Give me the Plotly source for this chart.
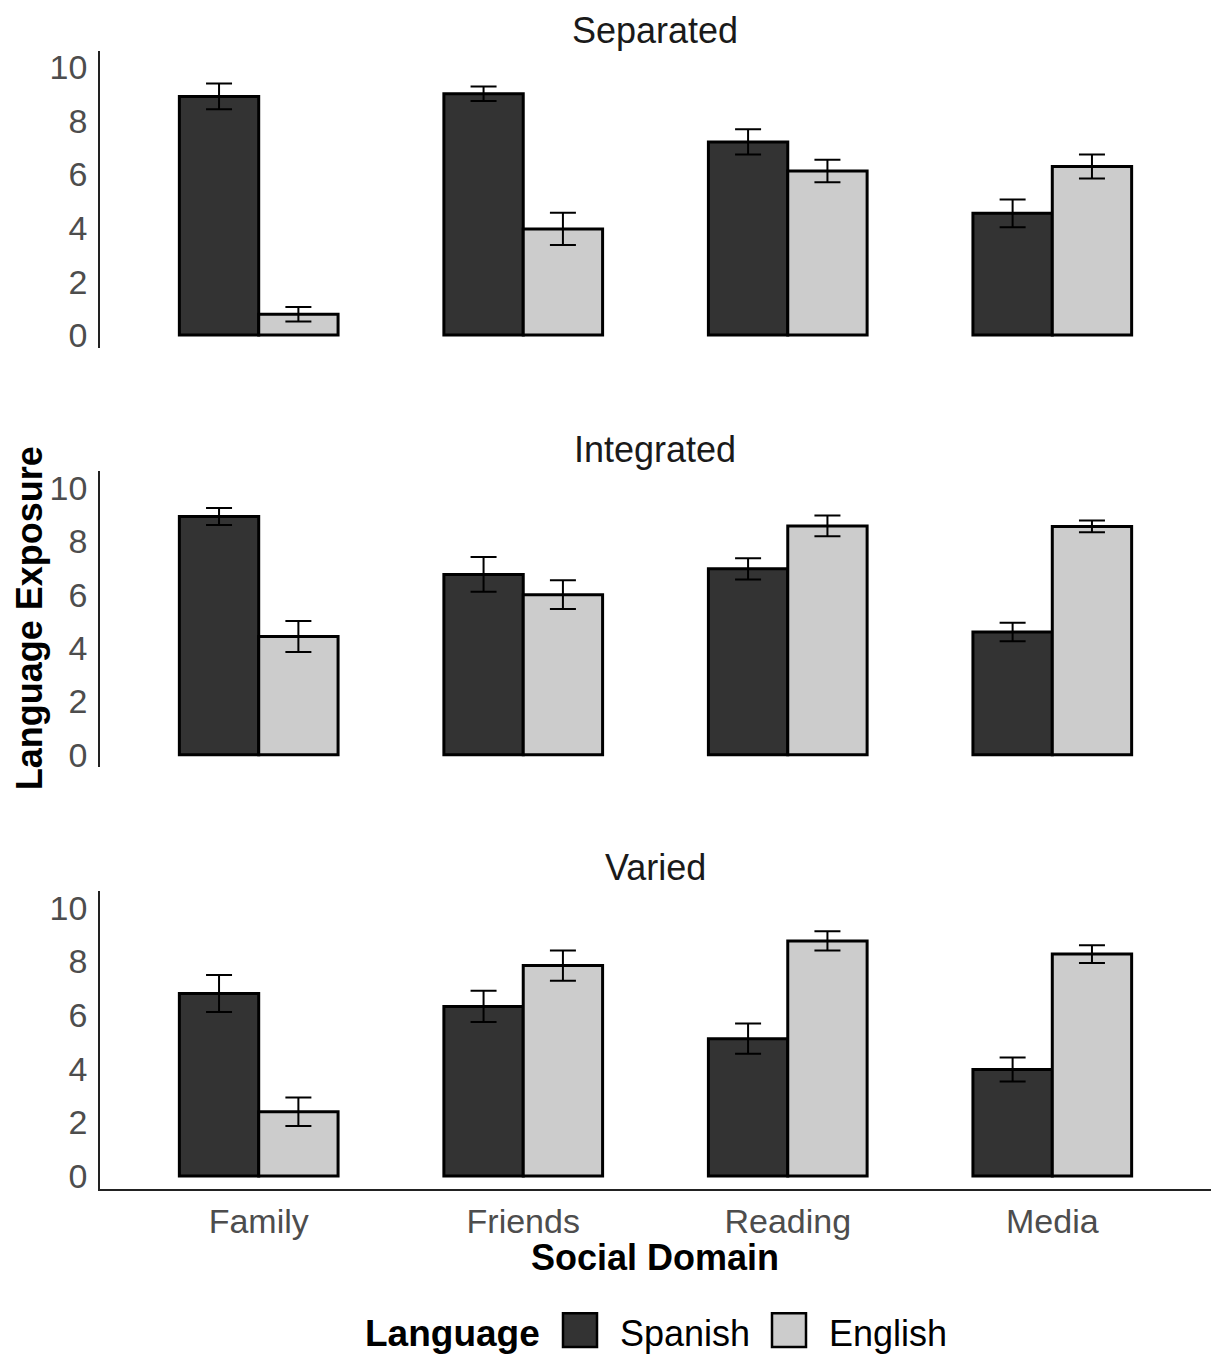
import plotly.graph_objects as go

# ---- data ----
categories = ["Family", "Friends", "Reading", "Media"]
panels = ["Separated", "Integrated", "Varied"]
languages = ["Spanish", "English"]

sep_spanish = [8.92, 9.02, 7.22, 4.55]
sep_spanish_se = [0.48, 0.27, 0.47, 0.52]
sep_english = [0.78, 3.97, 6.13, 6.30]
sep_english_se = [0.27, 0.60, 0.42, 0.45]

int_spanish = [8.93, 6.76, 6.97, 4.60]
int_spanish_se = [0.32, 0.65, 0.40, 0.35]
int_english = [4.43, 6.00, 8.58, 8.56]
int_english_se = [0.58, 0.54, 0.39, 0.22]

var_spanish = [6.80, 6.32, 5.12, 3.97]
var_spanish_se = [0.69, 0.58, 0.56, 0.45]
var_english = [2.40, 7.84, 8.76, 8.27]
var_english_se = [0.53, 0.56, 0.36, 0.33]

y_ticks = [0, 2, 4, 6, 8, 10]

# ---- styling ----
W, H = 1212, 1357
colors = {"Spanish": "#333333", "English": "#CCCCCC"}
FONT = "Liberation Sans, Arial, sans-serif"
TICK_COLOR = "#4D4D4D"

def px_x(p):
    return p / W

def px_y(p):
    return 1 - p / H

panel_data = [
    (sep_spanish, sep_spanish_se, sep_english, sep_english_se),
    (int_spanish, int_spanish_se, int_english, int_english_se),
    (var_spanish, var_spanish_se, var_english, var_english_se),
]
panel_px = [(49, 348), (472, 770), (894, 1194)]
title_py = [29, 450, 871]

fig = go.Figure()
layout_axes = {}
for i, (sp, sp_se, en, en_se) in enumerate(panel_data):
    n = "" if i == 0 else str(i + 1)
    xref, yref = "x" + n, "y" + n
    for lang, vals, se in (("Spanish", sp, sp_se), ("English", en, en_se)):
        fig.add_trace(go.Bar(
            x=categories, y=vals, name=lang, xaxis=xref, yaxis=yref,
            marker=dict(color=colors[lang], line=dict(color="black", width=3)),
            error_y=dict(type="data", array=se, visible=True, color="black",
                         thickness=2, width=13),
            showlegend=False, offsetgroup=lang,
        ))
    top, bot = panel_px[i]
    is_bottom = (i == 2)
    layout_axes["xaxis" + n] = dict(
        domain=[px_x(100), px_x(1211)], anchor=yref,
        range=[-0.6, 3.6], categoryorder="array", categoryarray=categories,
        showticklabels=is_bottom, showline=is_bottom, linecolor="#222222",
        linewidth=1.5, showgrid=False, zeroline=False,
        ticks="outside" if is_bottom else "", ticklen=1,
        tickcolor="rgba(0,0,0,0)",
        tickfont=dict(family=FONT, size=34, color=TICK_COLOR),
    )
    layout_axes["yaxis" + n] = dict(
        domain=[px_y(bot), px_y(top)], anchor=xref,
        range=[-0.48, 10.63], tickvals=y_ticks,
        showline=True, linecolor="#222222", linewidth=1.5,
        showgrid=False, zeroline=False,
        ticks="outside", ticklen=4, tickcolor="rgba(0,0,0,0)",
        tickfont=dict(family=FONT, size=34, color=TICK_COLOR),
    )

annotations = []
for i, t in enumerate(panels):
    annotations.append(dict(
        text=t, x=px_x(655), y=px_y(title_py[i]), xref="paper", yref="paper",
        xanchor="center", yanchor="middle", showarrow=False,
        font=dict(family=FONT, size=36, color="#1A1A1A")))
annotations.append(dict(
    text="<b>Language Exposure</b>", x=px_x(29), y=px_y(620),
    xref="paper", yref="paper", textangle=-90, xanchor="center",
    yanchor="middle", showarrow=False,
    font=dict(family=FONT, size=36, color="black")))
annotations.append(dict(
    text="<b>Social Domain</b>", x=px_x(655), y=px_y(1263),
    xref="paper", yref="paper", xanchor="center", yanchor="middle",
    showarrow=False, font=dict(family=FONT, size=36, color="black")))

# manual legend
leg_y = 1339
annotations.append(dict(
    text="<b>Language</b>", x=px_x(363), y=px_y(leg_y), xref="paper",
    yref="paper", xanchor="left", yanchor="middle", showarrow=False,
    font=dict(family=FONT, size=37, color="black")))
shapes = []
box_y = 1336
legend_items = [("Spanish", 563, 620), ("English", 772, 829)]
for lang, sx, tx in legend_items:
    shapes.append(dict(
        type="rect", xref="paper", yref="paper",
        x0=px_x(sx), x1=px_x(sx + 34), y0=px_y(box_y + 17), y1=px_y(box_y - 17),
        fillcolor=colors[lang], line=dict(color="black", width=2.5)))
    annotations.append(dict(
        text=lang, x=px_x(tx - 2), y=px_y(leg_y), xref="paper", yref="paper",
        xanchor="left", yanchor="middle", showarrow=False,
        font=dict(family=FONT, size=36, color="black")))

fig.update_layout(
    width=W, height=H, margin=dict(l=0, r=0, t=0, b=0),
    paper_bgcolor="white", plot_bgcolor="white",
    barmode="group", bargap=0.4, bargroupgap=0,
    annotations=annotations, shapes=shapes, showlegend=False,
    **layout_axes,
)

fig.write_html(
    "out.html",
    config={"displayModeBar": False},
    post_script="document.body.style.margin='0';document.body.style.overflow='hidden';",
)
